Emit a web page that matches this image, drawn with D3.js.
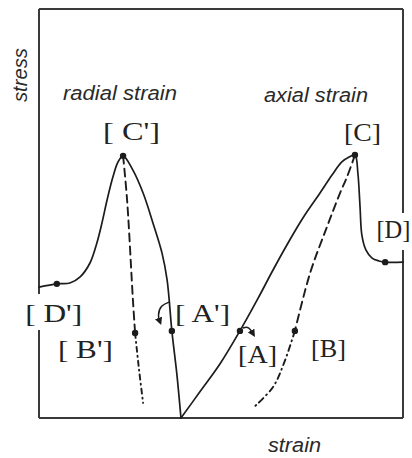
<!DOCTYPE html>
<html>
<head>
<meta charset="utf-8">
<script src="https://cdn.jsdelivr.net/npm/d3@7"></script>
<style>
  html, body { margin: 0; padding: 0; background: #fff; }
  svg { display: block; }
</style>
</head>
<body>
<svg id="chart" width="412" height="458"></svg>
<script>
// Stress–strain behaviour of a rock specimen in compression.
// Strain: negative = radial (lateral), positive = axial. Stress in relative units.

// Radial strain curve, loading from the origin through A', peak C', post-peak to D'
const radialStrain = [0, -1.1, -2.5, -3.8, -5.2, -7.7, -10.4, -13.2, -15.9, -17.3, -18.7, -20.3, -21.7, -23.1, -25.0, -27.7, -30.5, -34.1, -39];
const radialStress = [0, 10.5, 21.3, 33.7, 40.3, 47.7, 55.0, 60.6, 64.1, 62.6, 58.9, 53.3, 47.7, 42.8, 37.9, 34.5, 33.0, 32.8, 32.0];

// Axial strain curve, loading from the origin through A, peak C, post-peak to D
const axialStrain = [0, 5.2, 10.7, 16.2, 21.2, 25.0, 29.1, 33.5, 38.2, 41.5, 44.2, 46.2, 47.8, 48.6, 49.2, 49.7, 50.8, 52.5, 54.4, 56.1, 61];
const axialStress = [0, 6.4, 13.2, 21.3, 29.3, 35.7, 42.3, 48.9, 55.0, 59.4, 62.6, 63.8, 64.3, 59.9, 51.6, 44.7, 41.1, 39.1, 38.4, 38.1, 38.1];

// Unloading paths from the peaks (dashed down to B' / B, dash-dot below)
const radialUnloadStrain = [-15.9, -14.8, -13.2, -12.6];
const radialUnloadStress = [64.1, 53.3, 28.9, 20.8];
const radialTailStrain = [-12.6, -11.5, -10.4];
const radialTailStress = [20.8, 11.7, 3.7];

const axialUnloadStrain = [47.8, 45.6, 43.7, 40.1, 35.5, 31.3];
const axialUnloadStress = [64.3, 58.9, 55.0, 46.7, 35.5, 21.3];
const axialTailStrain = [31.3, 28.3, 25.3, 20.1];
const axialTailStress = [21.3, 13.4, 7.6, 2.7];

// Marked states on the curves
const pointNames  = ["[ D']", "[ C']", "[ A']", "[ B']", "[A]", "[B]", "[C]", "[D]"];
const pointStrain = [-34.1, -15.9, -2.5, -12.6, 16.2, 31.3, 47.8, 56.1];
const pointStress = [32.8, 64.1, 21.3, 20.8, 21.3, 21.3, 64.3, 38.1];
// Where each state label sits (strain, stress of its left baseline)
const labelStrain = [-42.8, -21.4, -1.6, -33.8, 15.7, 35.7, 44.8, 53.7];
const labelStress = [23.5, 68.0, 23.5, 14.7, 13.4, 14.9, 67.7, 44.0];

// Frame extents and the open gaps around the side labels
const strainMin = -39, strainMax = 61, stressMax = 100;
const leftGap = [21.5, 30.3];
const rightGap = [41.1, 50.1];

const svg = d3.select("#chart");

const x = d3.scaleLinear().domain([strainMin, strainMax]).range([39, 403]);
const y = d3.scaleLinear().domain([0, stressMax]).range([418, 9]);

const ink = "#1c1c1c";
const frameInk = "#3a3a3a";

// ---- frame ----
const frame = svg.append("g").attr("stroke", frameInk).attr("stroke-width", 2).attr("fill", "none");
const seg = (x1, y1, x2, y2) => frame.append("line")
  .attr("x1", x(x1)).attr("y1", y(y1)).attr("x2", x(x2)).attr("y2", y(y2));
seg(strainMin, stressMax, strainMax, stressMax);       // top
seg(strainMin, 0, strainMax, 0);                       // bottom
seg(strainMin, stressMax, strainMin, leftGap[1]);      // left, upper part
seg(strainMin, leftGap[0], strainMin, 0);              // left, lower part
seg(strainMax, stressMax, strainMax, rightGap[1]);     // right, upper part
seg(strainMax, rightGap[0], strainMax, 0);             // right, lower part

// ---- curves ----
const line = d3.line()
  .x(d => x(d[0])).y(d => y(d[1]))
  .curve(d3.curveCatmullRom.alpha(0.5));
const zip = (a, b) => a.map((v, i) => [v, b[i]]);

function curve(xs, ys, dash, width) {
  svg.append("path")
    .attr("d", line(zip(xs, ys)))
    .attr("fill", "none")
    .attr("stroke", ink)
    .attr("stroke-width", width)
    .attr("stroke-linecap", "round")
    .attr("stroke-dasharray", dash);
}

curve(radialStrain, radialStress, null, 1.7);
curve(axialStrain, axialStress, null, 1.7);
curve(radialUnloadStrain, radialUnloadStress, "8,5", 1.9);
curve(radialTailStrain, radialTailStress, "5,4,1,4", 1.9);
curve(axialUnloadStrain, axialUnloadStress, "8,5", 1.9);
curve(axialTailStrain, axialTailStress, "6,4,1,4", 1.9);

// ---- small direction arrows near A' and A ----
svg.append("defs").append("marker")
  .attr("id", "head")
  .attr("viewBox", "0 0 10 10")
  .attr("refX", 5).attr("refY", 5)
  .attr("markerWidth", 5).attr("markerHeight", 5)
  .attr("orient", "auto")
  .append("path").attr("d", "M0,0 L10,5 L0,10 Z").attr("fill", ink);

const arrowLine = d3.line().x(d => x(d[0])).y(d => y(d[1])).curve(d3.curveBasis);
const arrowAprime = [[-3.0, 28.4], [-5.6, 27.6], [-6.4, 25.0], [-5.8, 23.6]];
const arrowA = [[17.0, 22.0], [18.6, 22.4], [19.8, 20.6]];
[arrowAprime, arrowA].forEach(pts => {
  svg.append("path")
    .attr("d", arrowLine(pts))
    .attr("fill", "none")
    .attr("stroke", ink)
    .attr("stroke-width", 1.5)
    .attr("marker-end", "url(#head)");
});

// ---- state points ----
svg.append("g").selectAll("circle")
  .data(pointNames)
  .join("circle")
  .attr("cx", (d, i) => x(pointStrain[i]))
  .attr("cy", (d, i) => y(pointStress[i]))
  .attr("r", 3.2)
  .attr("fill", ink);

// ---- state labels ----
const labelWidths = [57, 57, 55, 55, 39, 35, 37, 34];
svg.append("g").selectAll("text")
  .data(pointNames)
  .join("text")
  .attr("x", (d, i) => x(labelStrain[i]))
  .attr("y", (d, i) => y(labelStress[i]))
  .attr("textLength", (d, i) => labelWidths[i])
  .attr("lengthAdjust", "spacingAndGlyphs")
  .attr("font-family", "'Liberation Serif', 'Times New Roman', serif")
  .attr("font-size", 25)
  .attr("fill", "#222")
  .text(d => d);

// ---- curve names and axis titles ----
const sans = "'Liberation Sans', Arial, sans-serif";
function title(txt, px, py, len, rotate) {
  const t = svg.append("text")
    .attr("font-family", sans)
    .attr("font-style", "italic")
    .attr("font-size", 20)
    .attr("fill", "#2a2a2a")
    .attr("textLength", len)
    .attr("lengthAdjust", "spacingAndGlyphs")
    .text(txt);
  if (rotate) {
    t.attr("transform", `translate(${px},${py}) rotate(-90)`);
  } else {
    t.attr("x", px).attr("y", py);
  }
}
title("radial strain", 63, 100, 114, false);
title("axial strain", 264, 102, 104, false);
title("strain", 268, 452, 53, false);
title("stress", 27, 102, 54, true);
</script>
</body>
</html>
